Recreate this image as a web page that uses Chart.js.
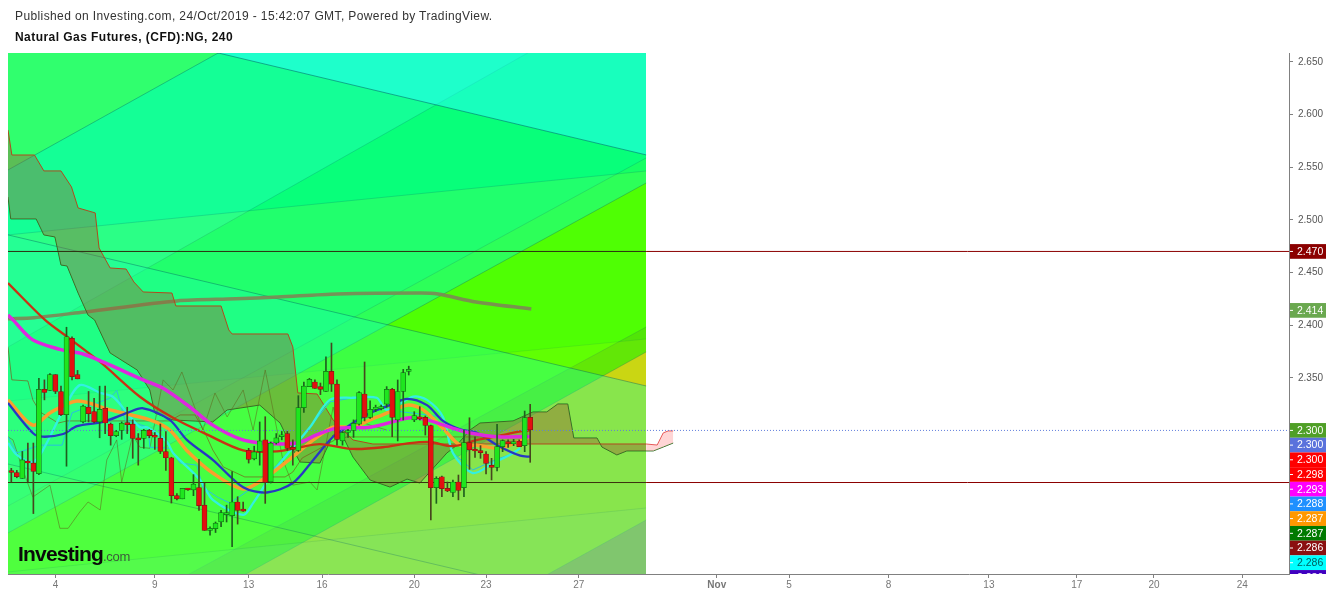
<!DOCTYPE html>
<html>
<head>
<meta charset="utf-8">
<title>Natural Gas Futures</title>
<script src="https://cdn.jsdelivr.net/npm/chart.js@4/dist/chart.umd.min.js"></script>
<style>
  html, body { margin: 0; padding: 0; background: #fff; }
  #wrap { position: relative; width: 1332px; height: 596px; overflow: hidden; }
  canvas { position: absolute; left: 0; top: 0; }
  .head { position: absolute; left: 15px; font-family: "Liberation Sans", Arial, sans-serif; white-space: nowrap; }
  #published { top: 9px; font-size: 12px; color: #333; letter-spacing: 0.39px; }
  #symbol { top: 30px; font-size: 12px; font-weight: bold; color: #111; letter-spacing: 0.45px; }
  #logo { position: absolute; left: 18px; top: 542px; font-family: "Liberation Sans", Arial, sans-serif;
          font-weight: bold; font-size: 21px; letter-spacing: -0.8px; color: #0a0a0a; white-space: nowrap; }
  #logo span { font-weight: normal; font-size: 13px; color: #3c5a3c; letter-spacing: -0.3px; }
</style>
</head>
<body>
<div id="wrap">
  <canvas id="chart" width="1332" height="596"></canvas>
  <div class="head" id="published">Published on Investing.com, 24/Oct/2019 - 15:42:07 GMT, Powered by TradingView.</div>
  <div class="head" id="symbol">Natural Gas Futures, (CFD):NG, 240</div>
  <div id="logo">Investing<span>.com</span></div>
</div>
<script>
// 4h candles, one entry per bar
const candleOpen = [
  2.261, 2.260, 2.2545, 2.270, 2.269, 2.259, 2.339, 2.338, 2.353, 2.337,
  2.315, 2.3875, 2.353, 2.308, 2.322, 2.318, 2.308, 2.321, 2.306, 2.295,
  2.300, 2.307, 2.306, 2.293, 2.2925, 2.300, 2.295, 2.2925, 2.280, 2.274,
  2.238, 2.235, 2.245, 2.2434, 2.2456, 2.229, 2.205, 2.2066, 2.213, 2.220,
  2.219, 2.232, 2.224, 2.281, 2.273, 2.280, 2.291, 2.251, 2.288, 2.294,
  2.297, 2.283, 2.281, 2.3216, 2.3416, 2.346, 2.3416, 2.337, 2.356, 2.344,
  2.290, 2.298, 2.300, 2.306, 2.3346, 2.3124, 2.320, 2.3207, 2.325, 2.339,
  2.3099, 2.337, 2.356, 2.3099, 2.313, 2.3124, 2.3045, 2.2456, 2.256, 2.245,
  2.241, 2.251, 2.2456, 2.2884, 2.2814, 2.2808, 2.2776, 2.2668, 2.2649, 2.2846,
  2.2893, 2.2871, 2.2899, 2.2855, 2.3124
];
const candleClose = [
  2.260, 2.256, 2.272, 2.269, 2.261, 2.339, 2.336, 2.353, 2.337, 2.315,
  2.389, 2.351, 2.349, 2.323, 2.316, 2.308, 2.320, 2.307, 2.295, 2.299,
  2.307, 2.3055, 2.2925, 2.291, 2.300, 2.295, 2.2935, 2.280, 2.274, 2.238,
  2.235, 2.245, 2.2434, 2.249, 2.2285, 2.205, 2.206, 2.212, 2.222, 2.221,
  2.232, 2.224, 2.2234, 2.2725, 2.2795, 2.290, 2.2507, 2.288, 2.293, 2.295,
  2.283, 2.282, 2.3216, 2.342, 2.3485, 2.340, 2.339, 2.356, 2.344, 2.2915,
  2.298, 2.2994, 2.3067, 2.336, 2.3124, 2.320, 2.322, 2.3226, 2.339, 2.3124,
  2.337, 2.3549, 2.358, 2.314, 2.311, 2.3048, 2.2456, 2.2545, 2.2447, 2.2424,
  2.251, 2.243, 2.2884, 2.2814, 2.2804, 2.2789, 2.2687, 2.2649, 2.2846, 2.2903,
  2.2871, 2.2893, 2.2846, 2.3121, 2.3004
];
const candleHigh = [
  2.264, 2.262, 2.280, 2.288, 2.288, 2.3495, 2.348, 2.354, 2.353, 2.342,
  2.398, 2.389, 2.357, 2.324, 2.337, 2.3305, 2.342, 2.342, 2.307, 2.300,
  2.308, 2.322, 2.310, 2.297, 2.301, 2.301, 2.298, 2.306, 2.299, 2.2745,
  2.240, 2.245, 2.245, 2.258, 2.2725, 2.250, 2.2085, 2.213, 2.224, 2.229,
  2.261, 2.237, 2.232, 2.283, 2.285, 2.308, 2.313, 2.289, 2.297, 2.299,
  2.299, 2.291, 2.333, 2.346, 2.3495, 2.348, 2.345, 2.370, 2.383, 2.348,
  2.299, 2.301, 2.310, 2.3368, 2.365, 2.328, 2.324, 2.324, 2.3416, 2.340,
  2.3479, 2.358, 2.361, 2.3178, 2.3226, 2.3137, 2.305, 2.256, 2.2567, 2.251,
  2.2529, 2.2576, 2.3004, 2.312, 2.294, 2.2855, 2.2798, 2.2735, 2.3058, 2.291,
  2.291, 2.2915, 2.291, 2.3184, 2.3248
];
const candleLow = [
  2.251, 2.255, 2.2545, 2.251, 2.221, 2.258, 2.329, 2.338, 2.335, 2.314,
  2.266, 2.348, 2.349, 2.307, 2.308, 2.307, 2.293, 2.297, 2.286, 2.294,
  2.2915, 2.297, 2.2735, 2.267, 2.283, 2.293, 2.282, 2.278, 2.262, 2.231,
  2.234, 2.235, 2.243, 2.238, 2.224, 2.205, 2.2006, 2.203, 2.2085, 2.213,
  2.1895, 2.211, 2.223, 2.269, 2.272, 2.267, 2.2307, 2.250, 2.287, 2.291,
  2.281, 2.267, 2.280, 2.317, 2.3416, 2.340, 2.334, 2.337, 2.337, 2.286,
  2.286, 2.2934, 2.2934, 2.305, 2.309, 2.3115, 2.3178, 2.3194, 2.322, 2.294,
  2.290, 2.3099, 2.3526, 2.3083, 2.3099, 2.2956, 2.2149, 2.2307, 2.237, 2.2418,
  2.237, 2.234, 2.237, 2.263, 2.2744, 2.2735, 2.2586, 2.2529, 2.2614, 2.2798,
  2.2839, 2.2855, 2.2846, 2.2798, 2.2697
];

// moving averages
const magentaBars = [-0.6, 0.3, 3.9, 8.8, 13, 16.6, 23.9, 27.5, 32.4, 36.5, 41.4, 45.6, 51.8, 55.4, 59, 65, 72.2, 75.3, 80, 83.1, 88, 94];
const magentaValues = [2.4097, 2.405, 2.386, 2.377, 2.3726, 2.365, 2.348, 2.340, 2.322, 2.305, 2.292, 2.288, 2.288, 2.296, 2.302, 2.303, 2.312, 2.310, 2.302, 2.2975, 2.294, 2.294];
const redBars = [-0.6, 6.1, 10.1, 16.1, 23.3, 29.3, 35.5, 42, 48.1, 52.3, 55.9, 61.9, 67.3, 72.2, 75.9, 80, 84.4, 88.5, 92.7, 94];
const redValues = [2.440, 2.405, 2.389, 2.365, 2.332, 2.312, 2.296, 2.281, 2.280, 2.284, 2.287, 2.2824, 2.284, 2.288, 2.289, 2.285, 2.291, 2.295, 2.2995, 2.300];
const blueBars = [-0.6, 3.9, 5.7, 9.4, 11.9, 16.6, 21, 23.9, 28.7, 31.8, 36.5, 42, 46.3, 51, 54.7, 58.3, 61.9, 65, 68.6, 71.7, 75.3, 78.2, 81.3, 84.4, 88, 92.2, 94];
const blueValues = [2.326, 2.2975, 2.294, 2.2966, 2.304, 2.308, 2.3166, 2.321, 2.310, 2.291, 2.272, 2.246, 2.241, 2.250, 2.272, 2.294, 2.307, 2.3166, 2.324, 2.330, 2.324, 2.309, 2.301, 2.2975, 2.286, 2.276, 2.275];
const orangeBars = [-0.6, 3.9, 7, 11.9, 17.9, 25.1, 28.7, 31.8, 36.5, 42, 46.3, 51, 54.7, 58.3, 61.9, 65, 68.6, 71.7, 74.6, 78.2, 81.3, 84.4, 88, 90.3, 94];
const orangeValues = [2.329, 2.305, 2.3166, 2.328, 2.3195, 2.310, 2.3004, 2.281, 2.2595, 2.2444, 2.256, 2.275, 2.291, 2.303, 2.303, 2.310, 2.3175, 2.324, 2.3195, 2.302, 2.286, 2.286, 2.283, 2.286, 2.294];
const smaBars = [-0.6, 4.1, 13.2, 30, 40.7, 48.3, 59, 74.2, 77.3, 84.2, 94.2];
const smaValues = [2.406, 2.407, 2.4125, 2.423, 2.425, 2.4267, 2.4296, 2.4306, 2.4296, 2.422, 2.4154];

// ichimoku
const tenkanBars = [-0.6, 1, 3.9, 5.7, 9.4, 12.4, 16.1, 18.4, 21, 23.3, 24.6, 28.2, 29.3, 34.2, 36.5, 42, 43.8, 48.1, 54.1, 57.7, 61.9, 66.2, 68, 72.8, 75.3, 78.2, 80, 83.6, 87.3, 90.3, 92.2];
const tenkanValues = [2.288, 2.2767, 2.270, 2.281, 2.319, 2.343, 2.3356, 2.332, 2.3166, 2.303, 2.303, 2.289, 2.2786, 2.253, 2.234, 2.2197, 2.231, 2.265, 2.303, 2.329, 2.331, 2.331, 2.3195, 2.332, 2.329, 2.3128, 2.2786, 2.2595, 2.269, 2.2767, 2.283];
const tealBars = [-0.6, 1, 5.2, 9.2, 11, 17.9, 19.1, 20.6, 24.8, 25.1, 28.7, 30.6, 33.6, 34.7, 37.3, 39.6, 43.8, 48.1, 54.1, 57.7, 61.9, 66.2, 68, 78.2, 80, 83.6, 88, 90.3, 92.2];
const tealValues = [2.2938, 2.2786, 2.286, 2.286, 2.3166, 2.3308, 2.338, 2.310, 2.303, 2.284, 2.283, 2.269, 2.267, 2.246, 2.2367, 2.231, 2.246, 2.267, 2.303, 2.327, 2.331, 2.331, 2.3195, 2.3128, 2.2786, 2.2624, 2.2728, 2.2767, 2.283];
const lagBars = [-0.6, 0.3, 2.1, 3.9, 7, 8.8, 10.3, 12.4, 13.9, 16.1, 17.3, 19.1, 20, 22, 23.3, 25.1, 27.5, 29.3, 30.9, 34.7, 36.9, 39.1, 42, 43.8, 46, 49.2, 51, 54.1, 55.4, 58.3, 59.5, 62.3, 65, 68];
const lagValues = [2.2938, 2.291, 2.2624, 2.2367, 2.248, 2.207, 2.207, 2.2225, 2.232, 2.2244, 2.272, 2.291, 2.251, 2.2957, 2.284, 2.283, 2.348, 2.3384, 2.3555, 2.3004, 2.3355, 2.3128, 2.3384, 2.3004, 2.3574, 2.2719, 2.248, 2.251, 2.2434, 2.3222, 2.2938, 2.310, 2.305, 2.3004];
const kijunBars = [-0.6, 0.1, 3, 3.9, 5.2, 8.5, 10.1, 28.7, 30.6, 33.3, 35.1, 36.5, 38.4, 42.3, 49.6, 51, 52.7, 55.4, 58.6, 60.8, 65.5, 94];
const kijunValues = [2.379, 2.348, 2.347, 2.329, 2.3175, 2.307, 2.309, 2.309, 2.3147, 2.3147, 2.2976, 2.2814, 2.2653, 2.2558, 2.2558, 2.2605, 2.2738, 2.2814, 2.2909, 2.2938, 2.2938, 2.2938];
const spanABars = [-0.6, 0.1, 4.2, 5.9, 9, 10.9, 12.1, 15.2, 15.9, 17.9, 20.8, 22.2, 23.9, 29.1, 29.8, 38, 39.4, 40, 50.1, 51, 51.9, 55.4, 58.3, 61.9, 65.5, 94, 115];
const spanAValues = [2.5854, 2.5616, 2.5616, 2.5465, 2.5465, 2.5313, 2.5113, 2.5066, 2.4733, 2.4543, 2.4533, 2.441, 2.4315, 2.4305, 2.4182, 2.4182, 2.3954, 2.3916, 2.3916, 2.3793, 2.3356, 2.3346, 2.3099, 2.2909, 2.2871, 2.2871, 2.2871];
const spanBBars = [-0.6, -0.1, 4.5, 5.9, 7.9, 9, 10.1, 12.1, 13.9, 15.1, 17.9, 22.8, 25.1, 26, 29.3, 33.3, 36.5, 39.1, 45, 48.7, 50.9, 52.3, 55.9, 58.3, 60.4, 61.9, 65, 68.6, 71.7, 74, 78.9, 80.7, 83.1, 84.9, 90.9, 94.5, 97, 99, 100.8, 101.9, 106.1, 107, 109.7, 111.5, 115];
const spanBValues = [2.5217, 2.5009, 2.5009, 2.4857, 2.4838, 2.4571, 2.4562, 2.4305, 2.4096, 2.4049, 2.3736, 2.3574, 2.3384, 2.3165, 2.3099, 2.3089, 2.308, 2.3194, 2.3241, 2.307, 2.2833, 2.27, 2.269, 2.2957, 2.2909, 2.2747, 2.2529, 2.2462, 2.2538, 2.25, 2.2785, 2.286, 2.3004, 2.307, 2.309, 2.3175, 2.3175, 2.3251, 2.3251, 2.2928, 2.2928, 2.2842, 2.2767, 2.2805, 2.2805];
const tailABars = [115, 117, 118.1, 119, 119.9];
const tailAValues = [2.2871, 2.2861, 2.2976, 2.2995, 2.2995];
const tailBBars = [115, 116.3, 118.1, 119.9];
const tailBValues = [2.2805, 2.2805, 2.2842, 2.288];

// gann fans, each line runs from the left to the right edge of the drawing
const fanBars = [-0.6, 115];
const fanTop = [2.6585, 2.6585];
const fanA1 = [2.5474, 2.8847];
const fanA2 = [2.3792, 2.7222];
const fanA3 = [2.2282, 2.5588];
const fanA4 = [2.2026, 2.535];
const fanA5 = [2.0705, 2.3982];
const fanA6 = [2.0382, 2.3745];
const fanA7 = [1.8805, 2.2149];
const fanD1 = [2.7061, 2.5617];
const fanD2 = [2.4857, 2.3422];
const fanD3 = [2.2681, 2.1256];
const fanH1 = [2.4857, 2.5464];
const fanH2 = [2.3279, 2.3868];
const fanH3 = [2.1655, 2.2263];

// horizontal levels
const levelUpper = 2.470;
const levelLower = 2.2505;
const levelLast = 2.300;
const fullBars = [-0.6, 231.46];
const outsideBars = [115, 231.46];

// axes
const priceTicks = [2.35, 2.40, 2.45, 2.50, 2.55, 2.60, 2.65];
const timeTickBars = [8, 26, 43, 56.3, 73, 86, 102.8, 127.8, 140.9, 158.9, 177.1, 193, 207, 223];
const timeTickLabels = ["4", "9", "13", "16", "20", "23", "27", "Nov", "5", "8", "13", "17", "20", "24"];

// price badges on the right
const badgeValues = [2.470, 2.414, 2.300, 2.300, 2.300, 2.298, 2.293, 2.288, 2.287, 2.287, 2.286, 2.286, 2.286];
const badgeColors = ["#8b0000", "#6aa84f", "#4f9f26", "#5a72dc", "#ff0000", "#ff0000", "#ff00ff", "#1e90ff", "#ff9800", "#007a00", "#8b1010", "#00ffff", "#4000c0"];
const badgeTextColors = ["#fff", "#fff", "#fff", "#fff", "#fff", "#fff", "#fff", "#fff", "#fff", "#fff", "#fff", "#006060", "#fff"];

const datasets = [];

function addLine(bars, values, style) {
  const ds = Object.assign({
    type: "line",
    data: bars.map((b, i) => ({ x: b, y: values[i] })),
    pointRadius: 0,
    borderWidth: 1,
    tension: 0,
    fill: false
  }, style);
  datasets.push(ds);
  return datasets.length - 1;
}

const fanStroke = "rgba(0, 105, 105, 0.22)";

// background bands, painted first to last
addLine(fanBars, fanTop, { borderWidth: 0, fill: "start", backgroundColor: "rgb(48, 255, 110)" });
addLine(fanBars, fanA1, { borderColor: "rgba(0, 105, 105, 0.4)", fill: "start", backgroundColor: "rgb(20, 255, 150)" });
addLine(fanBars, fanA2, { borderColor: fanStroke, fill: "start", backgroundColor: "rgb(8, 255, 122)" });
addLine(fanBars, fanA3, { borderColor: fanStroke, fill: "start", backgroundColor: "rgb(22, 255, 100)" });
addLine(fanBars, fanA4, { borderColor: "rgba(0, 105, 105, 0.4)", fill: "start", backgroundColor: "rgb(60, 255, 5)" });
addLine(fanBars, fanA5, { borderColor: fanStroke, fill: "start", backgroundColor: "rgb(62, 226, 10)" });
addLine(fanBars, fanA6, { borderColor: "rgba(0, 105, 105, 0.4)", fill: "start", backgroundColor: "rgb(190, 205, 25)" });
addLine(fanBars, fanA7, { borderColor: fanStroke, fill: "start", backgroundColor: "rgb(175, 135, 75)" });
addLine(fanBars, fanD1, { borderColor: "rgba(0, 90, 100, 0.5)", fill: "end", backgroundColor: "rgba(40, 255, 255, 0.5)" });
addLine(fanBars, fanH1, { borderColor: fanStroke, fill: "start", backgroundColor: "rgba(255, 255, 0, 0.1)" });
addLine(fanBars, fanH2, { borderColor: "rgba(0, 105, 105, 0.12)", fill: "start", backgroundColor: "rgba(255, 255, 0, 0.1)" });
addLine(fanBars, fanD2, { borderColor: "rgba(0, 90, 100, 0.4)", fill: "start", backgroundColor: "rgba(30, 255, 170, 0.38)" });
addLine(fanBars, fanD3, { borderColor: "rgba(0, 90, 100, 0.3)", fill: "start", backgroundColor: "rgba(255, 255, 0, 0.05)" });
addLine(fanBars, fanH3, { borderColor: "rgba(0, 105, 105, 0.12)", fill: "start", backgroundColor: "rgba(120, 225, 170, 0.12)" });

addLine(smaBars, smaValues, { borderColor: "rgba(125, 135, 85, 0.9)", borderWidth: 3.5, tension: 0.3 });

// cloud
const spanB = addLine(spanBBars, spanBValues, { borderColor: "rgb(35, 115, 35)" });
const cloudFill = "rgba(157, 92, 50, 0.4)";
addLine(spanABars, spanAValues, {
  borderColor: "rgb(175, 75, 30)",
  fill: { target: spanB, above: cloudFill, below: cloudFill }
});
const tailB = addLine(tailBBars, tailBValues, { borderColor: "rgb(35, 115, 35)" });
const tailFill = "rgba(255, 150, 150, 0.4)";
addLine(tailABars, tailAValues, {
  borderColor: "rgb(230, 90, 90)",
  fill: { target: tailB, above: tailFill, below: tailFill }
});

addLine(lagBars, lagValues, { borderColor: "rgba(95, 105, 30, 0.55)" });
addLine(kijunBars, kijunValues, { borderColor: "rgba(125, 85, 25, 0.65)" });
addLine(tealBars, tealValues, { borderColor: "rgb(40, 190, 225)" });
addLine(tenkanBars, tenkanValues, { borderColor: "rgb(50, 240, 225)", borderWidth: 2.3, tension: 0.3 });
addLine(orangeBars, orangeValues, { borderColor: "rgb(250, 160, 45)", borderWidth: 3.5, tension: 0.3 });
addLine(blueBars, blueValues, { borderColor: "rgb(40, 55, 195)", borderWidth: 2.3, tension: 0.3 });
addLine(redBars, redValues, { borderColor: "rgb(200, 50, 20)", borderWidth: 2.3, tension: 0.3 });
addLine(magentaBars, magentaValues, { borderColor: "rgb(222, 40, 222)", borderWidth: 3.5, tension: 0.3 });

addLine(fullBars, [levelLast, levelLast], { borderColor: "rgb(95, 125, 220)", borderDash: [1, 2] });
addLine(fanBars, [levelUpper, levelUpper], { borderColor: "rgb(45, 45, 15)" });
addLine(outsideBars, [levelUpper, levelUpper], { borderColor: "rgb(139, 0, 0)" });
addLine(fanBars, [levelLower, levelLower], { borderColor: "rgb(60, 50, 15)" });
addLine(outsideBars, [levelLower, levelLower], { borderColor: "rgb(139, 0, 0)" });

// candles, wick first and body over it
const isUp = candleOpen.map((o, i) => candleClose[i] >= o);
datasets.push({
  type: "bar",
  grouped: false,
  barThickness: 1,
  data: candleOpen.map((o, i) => ({ x: i, y: [candleLow[i], candleHigh[i]] })),
  backgroundColor: isUp.map((up) => up ? "rgb(30, 95, 30)" : "rgb(70, 70, 30)")
});
datasets.push({
  type: "bar",
  grouped: false,
  barThickness: 5,
  minBarLength: 2,
  borderWidth: 0.7,
  borderSkipped: false,
  data: candleOpen.map((o, i) => ({ x: i, y: [o, candleClose[i]] })),
  backgroundColor: isUp.map((up) => up ? "rgb(30, 230, 30)" : "rgb(228, 15, 15)"),
  borderColor: isUp.map((up) => up ? "rgb(15, 110, 20)" : "rgb(130, 25, 20)")
});

// later datasets paint on top
datasets.forEach((ds, i) => { ds.order = datasets.length - i; });

const badgePlugin = {
  id: "priceBadges",
  afterDraw(chart) {
    const ctx = chart.ctx;
    const y = chart.scales.y;
    const left = chart.chartArea.right + 1;
    const boxW = 36;
    const boxH = 14.7;
    let prev = -100;
    ctx.save();
    ctx.beginPath();
    ctx.rect(left, chart.chartArea.top, boxW, chart.chartArea.bottom - chart.chartArea.top);
    ctx.clip();
    ctx.font = '10.5px "Liberation Sans", Arial, sans-serif';
    ctx.textAlign = "left";
    ctx.textBaseline = "middle";
    badgeValues.forEach((v, i) => {
      let cy = y.getPixelForValue(v);
      if (cy < prev + boxH) cy = prev + boxH;
      prev = cy;
      ctx.fillStyle = badgeColors[i];
      ctx.fillRect(left, cy - boxH / 2, boxW, boxH);
      ctx.fillStyle = "#fff";
      ctx.fillRect(left, cy - 0.5, 3, 1);
      ctx.fillStyle = badgeTextColors[i];
      ctx.fillText(v.toFixed(3), left + 7, cy + 0.5);
    });
    ctx.restore();
  }
};

new Chart(document.getElementById("chart").getContext("2d"), {
  type: "line",
  data: { datasets: datasets },
  plugins: [badgePlugin],
  options: {
    responsive: false,
    devicePixelRatio: 1,
    animation: false,
    events: [],
    layout: { padding: { left: 8, top: 53, right: 0, bottom: 0 } },
    plugins: { legend: { display: false }, tooltip: { enabled: false } },
    scales: {
      x: {
        type: "linear",
        offset: false,
        min: -0.598,
        max: 231.46,
        afterFit(scale) { scale.height = 22; },
        afterBuildTicks(scale) { scale.ticks = timeTickBars.map((b) => ({ value: b })); },
        grid: { offset: false, drawOnChartArea: false, tickLength: 4, tickColor: "#808080" },
        border: { color: "#808080", width: 1 },
        ticks: {
          autoSkip: false,
          maxRotation: 0,
          padding: 1,
          color: "#777",
          font: (ctx) => ({
            family: '"Liberation Sans", Arial, sans-serif',
            size: 10,
            weight: ctx.tick && ctx.tick.value === 127.8 ? "bold" : "normal"
          }),
          callback: (value) => timeTickLabels[timeTickBars.indexOf(value)]
        }
      },
      y: {
        position: "right",
        min: 2.1636,
        max: 2.6585,
        afterFit(scale) { scale.width = 43; },
        afterBuildTicks(scale) { scale.ticks = priceTicks.map((p) => ({ value: p })); },
        grid: { drawOnChartArea: false, tickLength: 4, tickColor: "#808080" },
        border: { color: "#808080", width: 1 },
        ticks: {
          padding: 5,
          color: "#555",
          font: { family: '"Liberation Sans", Arial, sans-serif', size: 10 },
          callback: (value) => value.toFixed(3)
        }
      }
    }
  }
});
</script>
</body>
</html>
